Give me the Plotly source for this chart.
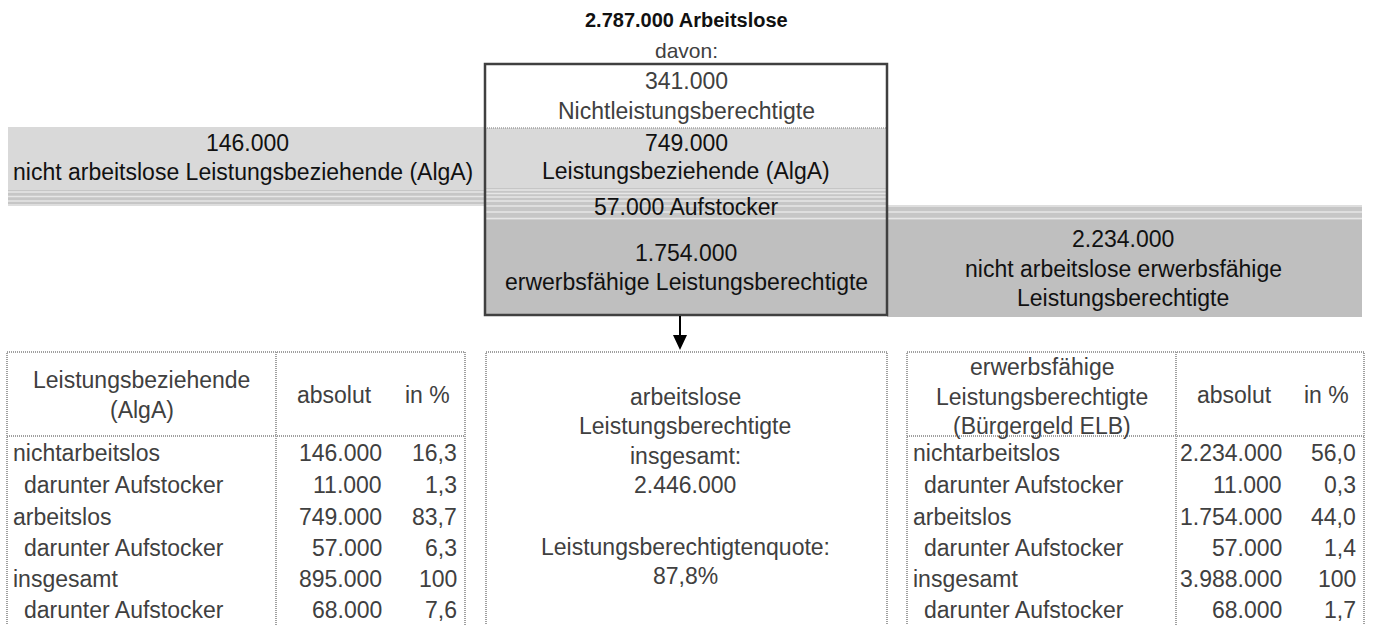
import plotly.graph_objects as go

# ---------------- data ----------------
total_unemployed = 2787000
non_eligible = 341000
algA_unemployed = 749000
aufstocker_unemployed = 57000
elb_unemployed = 1754000
algA_not_unemployed = 146000
elb_not_unemployed = 2234000
eligible_total = 2446000
eligible_rate = 87.8

row_labels = ["nichtarbeitslos", "darunter Aufstocker", "arbeitslos",
              "darunter Aufstocker", "insgesamt", "darunter Aufstocker"]
row_indent = [False, True, False, True, False, True]
left_abs = [146000, 11000, 749000, 57000, 895000, 68000]
left_pct = [16.3, 1.3, 83.7, 6.3, 100, 7.6]
right_abs = [2234000, 11000, 1754000, 57000, 3988000, 68000]
right_pct = [56.0, 0.3, 44.0, 1.4, 100, 1.7]


def fnum(v):
    return f"{v:,.0f}".replace(",", ".")


def fpct(v):
    if v == 100:
        return "100"
    return f"{v:.1f}".replace(".", ",")


FONT = "Liberation Sans, Arial, sans-serif"
FS = 23
DARK = "#404040"
BLACK = "#111111"
LIGHT = "#d9d9d9"
MID = "#bfbfbf"
STRIPE_BASE = "#c6c6c6"
STRIPE_LINE = "#e6e6e6"

fig = go.Figure()
shapes = []
ann = []


def rect(x0, y0, x1, y1, fill, line_color=None, lw=0, dash=None, layer="below"):
    d = dict(type="rect", xref="x", yref="y", x0=x0, y0=y0, x1=x1, y1=y1,
             fillcolor=fill, layer=layer,
             line=dict(width=lw, color=line_color or "rgba(0,0,0,0)"))
    if dash:
        d["line"]["dash"] = dash
    shapes.append(d)


def hline(x0, x1, y, color, w, dash=None):
    d = dict(type="line", xref="x", yref="y", x0=x0, x1=x1, y0=y, y1=y,
             line=dict(color=color, width=w))
    if dash:
        d["line"]["dash"] = dash
    shapes.append(d)


def vline(x, y0, y1, color, w, dash=None):
    d = dict(type="line", xref="x", yref="y", x0=x, x1=x, y0=y0, y1=y1,
             line=dict(color=color, width=w))
    if dash:
        d["line"]["dash"] = dash
    shapes.append(d)


def text(x, y, s, anchor="center", color=DARK, size=FS, bold=False):
    if bold:
        s = f"<b>{s}</b>"
    ann.append(dict(x=x, y=y, xref="x", yref="y", text=s, showarrow=False,
                    xanchor=anchor, yanchor="middle",
                    font=dict(family=FONT, size=size, color=color)))


# ---------- bands ----------
BX0, BX1 = 485, 887
# left band (AlgA not unemployed)
rect(8, 127, BX0, 190, LIGHT)
rect(8, 190, BX0, 206, STRIPE_BASE)
for yy in (192, 196.5, 201, 205):
    hline(8, BX0, yy, STRIPE_LINE, 1.5)
# right band (ELB not unemployed)
rect(BX1, 205, 1362, 220, STRIPE_BASE)
for yy in (206, 212, 218.5):
    hline(BX1, 1362, yy, STRIPE_LINE, 1.5)
rect(BX1, 220, 1362, 317, MID)

# centre box
rect(BX0, 64, BX1, 128, "white")
rect(BX0, 128, BX1, 188, LIGHT)
rect(BX0, 188, BX1, 220, STRIPE_BASE)
for yy in (190, 193.5, 197, 201, 206, 212, 218.5):
    hline(BX0, BX1, yy, STRIPE_LINE, 1.5)
rect(BX0, 220, BX1, 315, MID)
hline(BX0, BX1, 128, "#a0a0a0", 1.5, dash="1px,1px")
rect(BX0, 64, BX1, 315, "rgba(0,0,0,0)", line_color="#404040", lw=2.5, layer="above")

# arrow
vline(680, 316, 338, "black", 2)
shapes.append(dict(type="path", xref="x", yref="y",
                   path="M 673 335 L 687 335 L 680 350 Z",
                   fillcolor="black", line=dict(width=0)))

# ---------- top texts ----------
text(686, 20, f"{fnum(total_unemployed)} Arbeitslose", color=BLACK, size=20, bold=True)
text(686, 50, "davon:", size=21)
text(686, 81, fnum(non_eligible))
text(686, 111, "Nichtleistungsberechtigte")
text(686, 143, fnum(algA_unemployed), color=BLACK)
text(686, 171, "Leistungsbeziehende (AlgA)", color=BLACK)
text(686, 207, f"{fnum(aufstocker_unemployed)} Aufstocker", color=BLACK)
text(686, 253, fnum(elb_unemployed), color=BLACK)
text(686, 282, "erwerbsfähige Leistungsberechtigte", color=BLACK)

text(247, 143, fnum(algA_not_unemployed), color=BLACK)
text(243, 172, "nicht arbeitslose Leistungsbeziehende (AlgA)", color=BLACK)
text(1123, 239, fnum(elb_not_unemployed), color=BLACK)
text(1123, 269, "nicht arbeitslose erwerbsfähige", color=BLACK)
text(1123, 298, "Leistungsberechtigte", color=BLACK)

# ---------- tables ----------
TB_TOP, TB_HEAD, TB_BOT = 352, 436, 627
GRID = "#a0a0a0"
GDASH = "1px,1px"
row_y = [453, 485, 517, 548, 579, 610]


def table(x0, xdiv, x1, header_lines, header_ys, abs_vals, pct_vals):
    rect(x0, TB_TOP, x1, TB_BOT, "rgba(0,0,0,0)", line_color=GRID, lw=2, dash=GDASH)
    vline(xdiv, TB_TOP, TB_BOT, GRID, 2, dash=GDASH)
    hline(x0, x1, TB_HEAD, GRID, 2, dash=GDASH)
    hc = (x0 + xdiv) / 2
    for s, yy in zip(header_lines, header_ys):
        text(hc, yy, s)
    text(xdiv + 58, 395, "absolut")
    text(x1 - 38, 395, "in %")
    for lab, ind, a, p, yy in zip(row_labels, row_indent, abs_vals, pct_vals, row_y):
        text(x0 + (15 if ind else 4), yy, lab, anchor="left")
        text(xdiv + 108, yy, fnum(a), anchor="right")
        text(x1 - 6, yy, fpct(p), anchor="right")


table(7, 276, 465, ["Leistungsbeziehende", "(AlgA)"], [380, 410], left_abs, left_pct)
table(907, 1176, 1364, ["erwerbsfähige", "Leistungsberechtigte", "(Bürgergeld ELB)"],
      [367, 397, 426], right_abs, right_pct)

# centre table
rect(486, TB_TOP, 887, TB_BOT, "rgba(0,0,0,0)", line_color=GRID, lw=2, dash=GDASH)
cx = 685
text(cx, 397, "arbeitslose")
text(cx, 426, "Leistungsberechtigte")
text(cx, 456, "insgesamt:")
text(cx, 485, fnum(eligible_total))
text(cx, 547, "Leistungsberechtigtenquote:")
text(cx, 576, f"{eligible_rate:.1f}".replace(".", ",") + "%")

fig.update_layout(
    width=1375, height=625, autosize=False,
    margin=dict(l=0, r=0, t=0, b=0),
    paper_bgcolor="white", plot_bgcolor="white",
    xaxis=dict(range=[0, 1375], visible=False, fixedrange=True),
    yaxis=dict(range=[625, 0], visible=False, fixedrange=True),
    shapes=shapes, annotations=ann, showlegend=False,
)

fig.write_html("out.html", config={"displayModeBar": False},
               post_script="document.body.style.margin='0';document.body.style.overflow='hidden';")
